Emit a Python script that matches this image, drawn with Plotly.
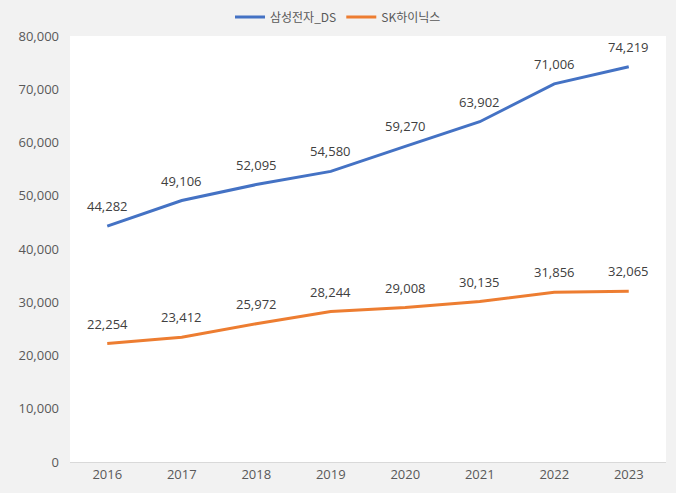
import plotly.graph_objects as go

years = ["2016", "2017", "2018", "2019", "2020", "2021", "2022", "2023"]
samsung_ds = [44282, 49106, 52095, 54580, 59270, 63902, 71006, 74219]
sk_hynix = [22254, 23412, 25972, 28244, 29008, 30135, 31856, 32065]
y_ticks = [0, 10000, 20000, 30000, 40000, 50000, 60000, 70000, 80000]

font_family = "Open Sans, Noto Sans CJK KR, sans-serif"
text_color = "#595959"

fig = go.Figure()
fig.add_trace(go.Scatter(
    x=years, y=samsung_ds, name="삼성전자_DS", mode="lines",
    line=dict(color="#4472C4", width=3),
))
fig.add_trace(go.Scatter(
    x=years, y=sk_hynix, name="SK하이닉스", mode="lines",
    line=dict(color="#ED7D31", width=3),
))

for series in (samsung_ds, sk_hynix):
    for i, v in enumerate(series):
        fig.add_annotation(x=i, y=v, xref="x", yref="y", text=f"{v:,}", showarrow=False, yshift=20,
                           font=dict(size=13, color="#404040", family=font_family))

fig.update_layout(
    width=676, height=493,
    paper_bgcolor="#F2F2F2", plot_bgcolor="#FFFFFF",
    margin=dict(l=70, r=10, t=36, b=31, autoexpand=False),
    font=dict(family=font_family, size=13, color=text_color),
    showlegend=True,
    legend=dict(orientation="h", x=0.5, xanchor="center", xref="container",
                y=0.995, yanchor="top", yref="container",
                font=dict(size=12, color=text_color, family="Noto Sans CJK KR, sans-serif"),
                bgcolor="rgba(0,0,0,0)", itemwidth=30),
    xaxis=dict(type="category", range=[-0.5, 7.5], showgrid=False, showline=True,
               linecolor="#D9D9D9", linewidth=1, ticks="", automargin=False,
               tickfont=dict(size=13, color=text_color)),
    yaxis=dict(range=[0, 80000], tickvals=y_ticks, tickformat=",", showgrid=False,
               zeroline=False, showline=False, ticks="", ticklabelstandoff=10, automargin=False,
               tickfont=dict(size=13, color=text_color)),
)
fig.write_html("out.html", config={"displayModeBar": False},
               post_script="document.body.style.margin='0';document.body.style.background='#F2F2F2';")
